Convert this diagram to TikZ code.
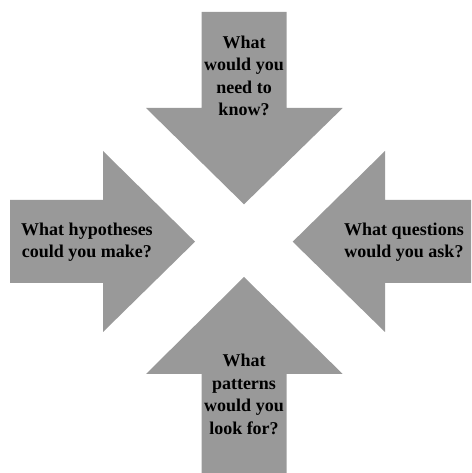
\documentclass[tikz,border=0pt]{standalone}
\usepackage{fontspec}
\setmainfont{Liberation Serif}
\usepackage{tikz}
\usetikzlibrary{positioning}
\usetikzlibrary{calc}
\colorlet{arrowgray}{black!40}
\tikzset{
    bigarrow/.style={fill=arrowgray, draw=none},
    question/.style={align=center, inner sep=0pt, font=\fontsize{18}{22.5}\selectfont\bfseries}
}

\begin{document}
\begin{tikzpicture}[x=1pt, y=1pt]
        \useasboundingbox (0,0) rectangle (471,473);
        \coordinate (mid) at (244,231.3);
        \fill [bigarrow] (201.7,461) -- (286.7,461) -- (286.7,365) -- (342.7,365) -- ($(mid)+(0,37.4)$) -- (146,365) -- (201.7,365) -- cycle;
        \fill [bigarrow] (201.7,0) -- (286.7,0) -- (286.7,99) -- (342.7,99) -- ($(mid)+(0,-35.3)$) -- (146,99) -- (201.7,99) -- cycle;
        \fill [bigarrow] (10,190) -- (103,190) -- (103,141) -- ($(mid)+(-49,0)$) -- (103,322) -- (103,273) -- (10,273) -- cycle;
        \fill [bigarrow] (471,190) -- (385,190) -- (385,141) -- ($(mid)+(48.7,0)$) -- (385,322) -- (385,273) -- (471,273) -- cycle;
        \node [question] (need) at (244,397.3) {What\\would you\\need to\\know?};
        \node [question] (hypo) at (87,231) {What hypotheses\\could you make?};
        \node [question] (ask) at (404,231) {What questions\\would you ask?};
        \node [question] (look) at (244,78.6) {What\\patterns\\would you\\look for?};
    \end{tikzpicture}
\end{document}
